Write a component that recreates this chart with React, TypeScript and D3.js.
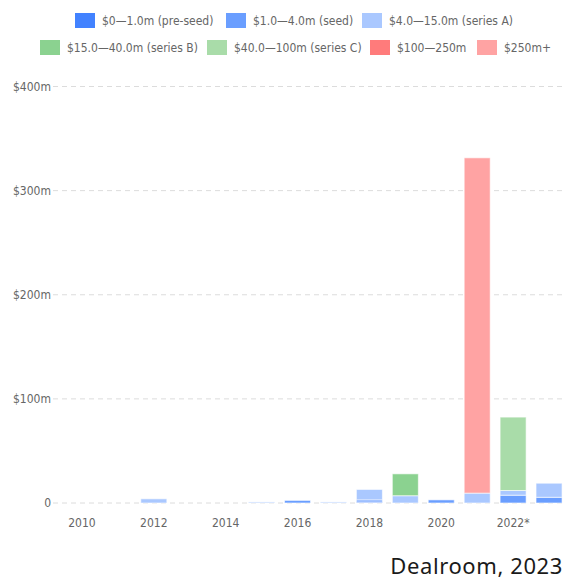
import React from "react";
import * as d3 from "d3";

const years = ["2010","2011","2012","2013","2014","2015","2016","2017","2018","2019","2020","2021","2022","2023"];
const yearLabels = ["2010","","2012","","2014","","2016","","2018","","2020","","2022*",""];
const seriesNames = ["$0—1.0m (pre-seed)","$1.0—4.0m (seed)","$4.0—15.0m (series A)","$15.0—40.0m (series B)","$40.0—100m (series C)","$100—250m","$250m+"];
const seriesColors = ["#4282ff","#6a9eff","#aac8ff","#8bd290","#a9dca9","#ff7b7b","#ffa3a3"];
const preSeed = [0,0,0,0,0,0,0,0,1,0,0,0,0,0];
const seed    = [0,0,0,0,0,0,2.5,0,2,0,3,0,7.5,5.5];
const seriesA = [0,0,4,0,0,1,0,1,10,7,0,9.5,4.5,13.5];
const seriesB = [0,0,0,0,0,0,0,0,0,21,0,0,0,0];
const seriesC = [0,0,0,0,0,0,0,0,0,0,0,0,70.5,0];
const s100 = [0,0,0,0,0,0,0,0,0,0,0,0,0,0];
const s250 = [0,0,0,0,0,0,0,0,0,0,0,322,0,0];
const yTicks = [0,100,200,300,400];
const yTickLabels = ["0","$100m","$200m","$300m","$400m"];

const legendRows = [
  [{ i: 0, x: 75 }, { i: 1, x: 226 }, { i: 2, x: 362 }],
  [{ i: 3, x: 40 }, { i: 4, x: 207 }, { i: 5, x: 370 }, { i: 6, x: 477 }],
];

export default function App() {
  const W = 566, H = 579;
  const font = "'DejaVu Sans Condensed', 'DejaVu Sans', sans-serif";
  const x = d3.scaleBand<string>().domain(years).range([64, 567]).paddingInner(0.276).paddingOuter(0.138);
  const y = d3.scaleLinear().domain([0, 400]).range([503, 86.5]);
  const rows = years.map((yr, i) => ({
    year: yr,
    s0: preSeed[i], s1: seed[i], s2: seriesA[i], s3: seriesB[i], s4: seriesC[i], s5: s100[i], s6: s250[i],
  }));
  const keys = ["s0","s1","s2","s3","s4","s5","s6"];
  const stacked = d3.stack<any>().keys(keys)(rows);

  return (
    <svg width={W} height={H} style={{ position: "absolute", left: 0, top: 0, background: "#fff" }} fontFamily={font}>
      {legendRows.map((row, ri) =>
        row.map(({ i, x: lx }) => (
          <g key={`${ri}-${i}`} transform={`translate(${lx},${ri === 0 ? 13 : 40})`}>
            <rect width={20} height={15} fill={seriesColors[i]} />
            <text x={27} y={12} fontSize={12} fill="#666">{seriesNames[i]}</text>
          </g>
        ))
      )}
      {yTicks.map((t, i) => (
        <g key={t}>
          <line x1={53} x2={566} y1={y(t)} y2={y(t)} stroke="#dcdcdc" strokeDasharray="5,4" />
          <text x={51} y={y(t) + 4} textAnchor="end" fontSize={12} fill="#666">{yTickLabels[i]}</text>
        </g>
      ))}
      {stacked.map((layer, li) => (
        <g key={li} fill={seriesColors[li]}>
          {layer.map((d: any, di: number) => {
            const h = y(d[0]) - y(d[1]);
            if (h <= 0) return null;
            return (
              <rect key={di} x={x(years[di])} width={x.bandwidth()} y={y(d[1])} height={h}
                stroke="#fff" strokeOpacity={0.6} strokeWidth={1} />
            );
          })}
        </g>
      ))}
      {years.map((yr, i) => (
        yearLabels[i] ? (
          <text key={yr} x={(x(yr) as number) + x.bandwidth() / 2} y={527} textAnchor="middle" fontSize={12} fill="#666">{yearLabels[i]}</text>
        ) : null
      ))}
      <text x={563} y={574} textAnchor="end" fontSize={22} letterSpacing={0.6} fill="#1a1a1a" fontFamily="'Noto Sans', sans-serif">Dealroom, 2023</text>
    </svg>
  );
}
